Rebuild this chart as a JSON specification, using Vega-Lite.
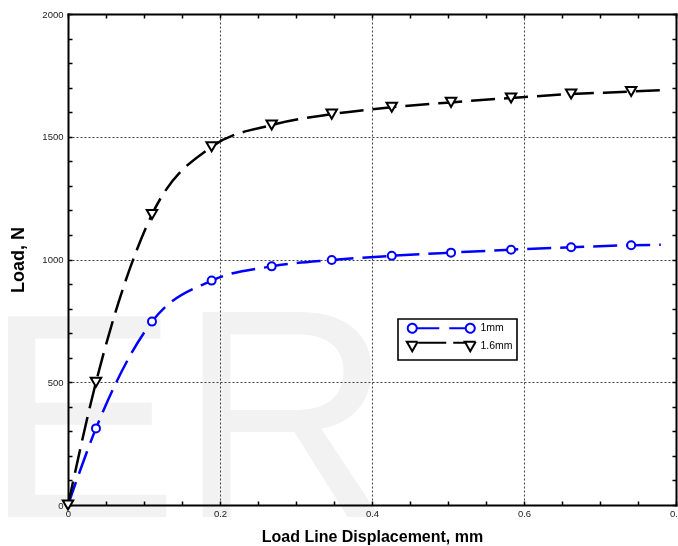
{
  "$schema": "https://vega.github.io/schema/vega-lite/v6.json",
  "width": 608,
  "height": 491,
  "autosize": {"type": "none"},
  "padding": {"left": 68, "top": 14, "right": 2, "bottom": 41},
  "background": "white",
  "config": {
    "view": {"stroke": null},
    "font": "Liberation Sans",
    "axis": {
      "domainColor": "#000",
      "domainWidth": 2,
      "domainCap": "square",
      "tickColor": "#000",
      "tickWidth": 1.5,
      "tickSize": -4,
      "labelFont": "Liberation Sans",
      "labelFontSize": 9.5,
      "labelColor": "#222",
      "titleFont": "Liberation Sans",
      "titleFontWeight": "bold",
      "titleColor": "#000",
      "labelOverlap": false,
      "labelFlush": false,
      "gridDash": [2, 2],
      "gridColor": "#444",
      "gridWidth": 1
    }
  },
  "datasets": {
    "curves": [
      {"series": "1mm", "x": 0, "y": 0},
      {"series": "1mm", "x": 0.0368, "y": 312},
      {"series": "1mm", "x": 0.1105, "y": 747},
      {"series": "1mm", "x": 0.189, "y": 914},
      {"series": "1mm", "x": 0.268, "y": 972},
      {"series": "1mm", "x": 0.347, "y": 998},
      {"series": "1mm", "x": 0.426, "y": 1015},
      {"series": "1mm", "x": 0.504, "y": 1028},
      {"series": "1mm", "x": 0.583, "y": 1040},
      {"series": "1mm", "x": 0.662, "y": 1050},
      {"series": "1mm", "x": 0.741, "y": 1058},
      {"series": "1mm", "x": 0.78, "y": 1060},
      {"series": "1.6mm", "x": 0, "y": 0},
      {"series": "1.6mm", "x": 0.0368, "y": 500},
      {"series": "1.6mm", "x": 0.1105, "y": 1183},
      {"series": "1.6mm", "x": 0.189, "y": 1459},
      {"series": "1.6mm", "x": 0.268, "y": 1548},
      {"series": "1.6mm", "x": 0.347, "y": 1592},
      {"series": "1.6mm", "x": 0.426, "y": 1620},
      {"series": "1.6mm", "x": 0.504, "y": 1640},
      {"series": "1.6mm", "x": 0.583, "y": 1658},
      {"series": "1.6mm", "x": 0.662, "y": 1674},
      {"series": "1.6mm", "x": 0.741, "y": 1684},
      {"series": "1.6mm", "x": 0.78, "y": 1690}
    ],
    "markers": [
      {"curve": "1mm", "x": 0.0368, "y": 312},
      {"curve": "1mm", "x": 0.1105, "y": 747},
      {"curve": "1mm", "x": 0.189, "y": 914},
      {"curve": "1mm", "x": 0.268, "y": 972},
      {"curve": "1mm", "x": 0.347, "y": 998},
      {"curve": "1mm", "x": 0.426, "y": 1015},
      {"curve": "1mm", "x": 0.504, "y": 1028},
      {"curve": "1mm", "x": 0.583, "y": 1040},
      {"curve": "1mm", "x": 0.662, "y": 1050},
      {"curve": "1mm", "x": 0.741, "y": 1058},
      {"curve": "1.6mm", "x": 0, "y": 0},
      {"curve": "1.6mm", "x": 0.0368, "y": 500},
      {"curve": "1.6mm", "x": 0.1105, "y": 1183},
      {"curve": "1.6mm", "x": 0.189, "y": 1459},
      {"curve": "1.6mm", "x": 0.268, "y": 1548},
      {"curve": "1.6mm", "x": 0.347, "y": 1592},
      {"curve": "1.6mm", "x": 0.426, "y": 1620},
      {"curve": "1.6mm", "x": 0.504, "y": 1640},
      {"curve": "1.6mm", "x": 0.583, "y": 1658},
      {"curve": "1.6mm", "x": 0.662, "y": 1674},
      {"curve": "1.6mm", "x": 0.741, "y": 1684}
    ]
  },
  "layer": [
    {
      "data": {"values": [{"label": "E"}]},
      "mark": {"type": "text", "fontSize": 292, "font": "Liberation Sans", "color": "#f2f2f2", "align": "left", "baseline": "alphabetic", "blend": "multiply"},
      "encoding": {
        "x": {"datum": -0.1105, "type": "quantitative", "axis": null, "scale": {"domain": [0, 0.8], "nice": false, "zero": false}},
        "y": {"datum": -49, "type": "quantitative", "axis": null, "scale": {"domain": [0, 2000], "nice": false, "zero": false}},
        "text": {"field": "label", "type": "nominal"}
      }
    },
    {
      "data": {"values": [{"label": "R"}]},
      "mark": {"type": "text", "fontSize": 298, "font": "Liberation Sans", "color": "#f2f2f2", "align": "left", "baseline": "alphabetic", "blend": "multiply"},
      "encoding": {
        "x": {"datum": 0.145, "type": "quantitative", "axis": null, "scale": {"domain": [0, 0.8], "nice": false, "zero": false}},
        "y": {"datum": -49, "type": "quantitative", "axis": null, "scale": {"domain": [0, 2000], "nice": false, "zero": false}},
        "text": {"field": "label", "type": "nominal"}
      }
    },
    {
      "data": {"name": "curves"},
      "mark": {"type": "line", "interpolate": "monotone", "strokeWidth": 2.5, "strokeDash": [24, 9]},
      "encoding": {
        "x": {
          "field": "x", "type": "quantitative",
          "scale": {"domain": [0, 0.8], "nice": false, "zero": false},
          "axis": {
            "title": "Load Line Displacement, mm",
            "titleFontSize": 16,
            "titlePadding": 11,
            "labelPadding": 7,
            "values": [0, 0.05, 0.1, 0.15, 0.2, 0.25, 0.3, 0.35, 0.4, 0.45, 0.5, 0.55, 0.6, 0.65, 0.7, 0.75, 0.8],
            "labelExpr": "round(datum.value*100) % 20 == 0 ? (datum.value == 0 ? '0' : format(datum.value, '.1f')) : ''",
            "grid": true,
            "gridOpacity": {"condition": {"test": "round(datum.value*100) % 20 == 0 && datum.value > 0.01 && datum.value < 0.79", "value": 1}, "value": 0}
          }
        },
        "y": {
          "field": "y", "type": "quantitative",
          "scale": {"domain": [0, 2000], "nice": false, "zero": false},
          "axis": {
            "title": "Load, N",
            "titleFontSize": 18,
            "titlePadding": 14,
            "labelPadding": 9,
            "values": [0, 100, 200, 300, 400, 500, 600, 700, 800, 900, 1000, 1100, 1200, 1300, 1400, 1500, 1600, 1700, 1800, 1900, 2000],
            "labelExpr": "datum.value % 500 == 0 ? format(datum.value, 'd') : ''",
            "grid": true,
            "gridOpacity": {"condition": {"test": "datum.value % 500 == 0 && datum.value > 0 && datum.value < 2000", "value": 1}, "value": 0}
          }
        },
        "color": {
          "field": "series", "type": "nominal",
          "scale": {"domain": ["1mm", "1.6mm"], "range": ["#0000ff", "#000000"]},
          "legend": {
            "title": null,
            "orient": "none",
            "legendX": 330,
            "legendY": 305,
            "padding": 4,
            "symbolOffset": 5,
            "labelOffset": 63,
            "labelFontSize": 10.5,
            "labelFont": "Liberation Sans",
            "labelColor": "#000",
            "strokeColor": "#000",
            "fillColor": "#fff",
            "symbolSize": 16,
            "rowPadding": 0,
            "symbolStrokeWidth": 2,
            "encode": {
              "legend": {"update": {"strokeWidth": {"value": 1.6}}},
              "symbols": {
                "update": {
                  "shape": {"signal": "datum.value == '1mm' ? 'M2.25,0A2.25,2.25,0,1,1,-2.25,0A2.25,2.25,0,1,1,2.25,0M2.25,0L13.5,0M18.5,0L26.75,0M31.25,0A2.25,2.25,0,1,1,26.75,0A2.25,2.25,0,1,1,31.25,0' : 'M-2.75,-2.3L2.75,-2.3L0,2.5ZM3,-1.8L17,-1.8M20.5,-1.8L26.5,-1.8M26.25,-2.3L31.75,-2.3L29,2.5Z'"},
                  "fill": {"value": "#ffffff"},
                  "strokeDash": {"value": [1, 0]},
                  "strokeWidth": {"value": 2},
                  "opacity": {"value": 1}
                }
              }
            }
          }
        }
      }
    },
    {
      "data": {"name": "markers"},
      "transform": [{"filter": "datum.curve == '1mm'"}],
      "mark": {"type": "point", "shape": "circle", "size": 64, "stroke": "#0000ff", "fill": "#ffffff", "strokeWidth": 2, "opacity": 1},
      "encoding": {
        "x": {
          "field": "x", "type": "quantitative",
          "scale": {"domain": [0, 0.8], "nice": false, "zero": false},
          "axis": {"orient": "top", "labels": false, "grid": false, "title": null,
            "values": [0, 0.05, 0.1, 0.15, 0.2, 0.25, 0.3, 0.35, 0.4, 0.45, 0.5, 0.55, 0.6, 0.65, 0.7, 0.75, 0.8]}
        },
        "y": {
          "field": "y", "type": "quantitative",
          "scale": {"domain": [0, 2000], "nice": false, "zero": false},
          "axis": {"orient": "right", "labels": false, "grid": false, "title": null,
            "values": [0, 100, 200, 300, 400, 500, 600, 700, 800, 900, 1000, 1100, 1200, 1300, 1400, 1500, 1600, 1700, 1800, 1900, 2000]}
        }
      }
    },
    {
      "data": {"name": "markers"},
      "transform": [{"filter": "datum.curve == '1.6mm'"}],
      "mark": {"type": "point", "shape": "triangle-down", "size": 110, "stroke": "#000000", "fill": "#ffffff", "strokeWidth": 2, "opacity": 1},
      "encoding": {
        "x": {"field": "x", "type": "quantitative", "scale": {"domain": [0, 0.8], "nice": false, "zero": false}, "axis": null},
        "y": {"field": "y", "type": "quantitative", "scale": {"domain": [0, 2000], "nice": false, "zero": false}, "axis": null}
      }
    }
  ],
  "resolve": {"axis": {"x": "independent", "y": "independent"}}
}
